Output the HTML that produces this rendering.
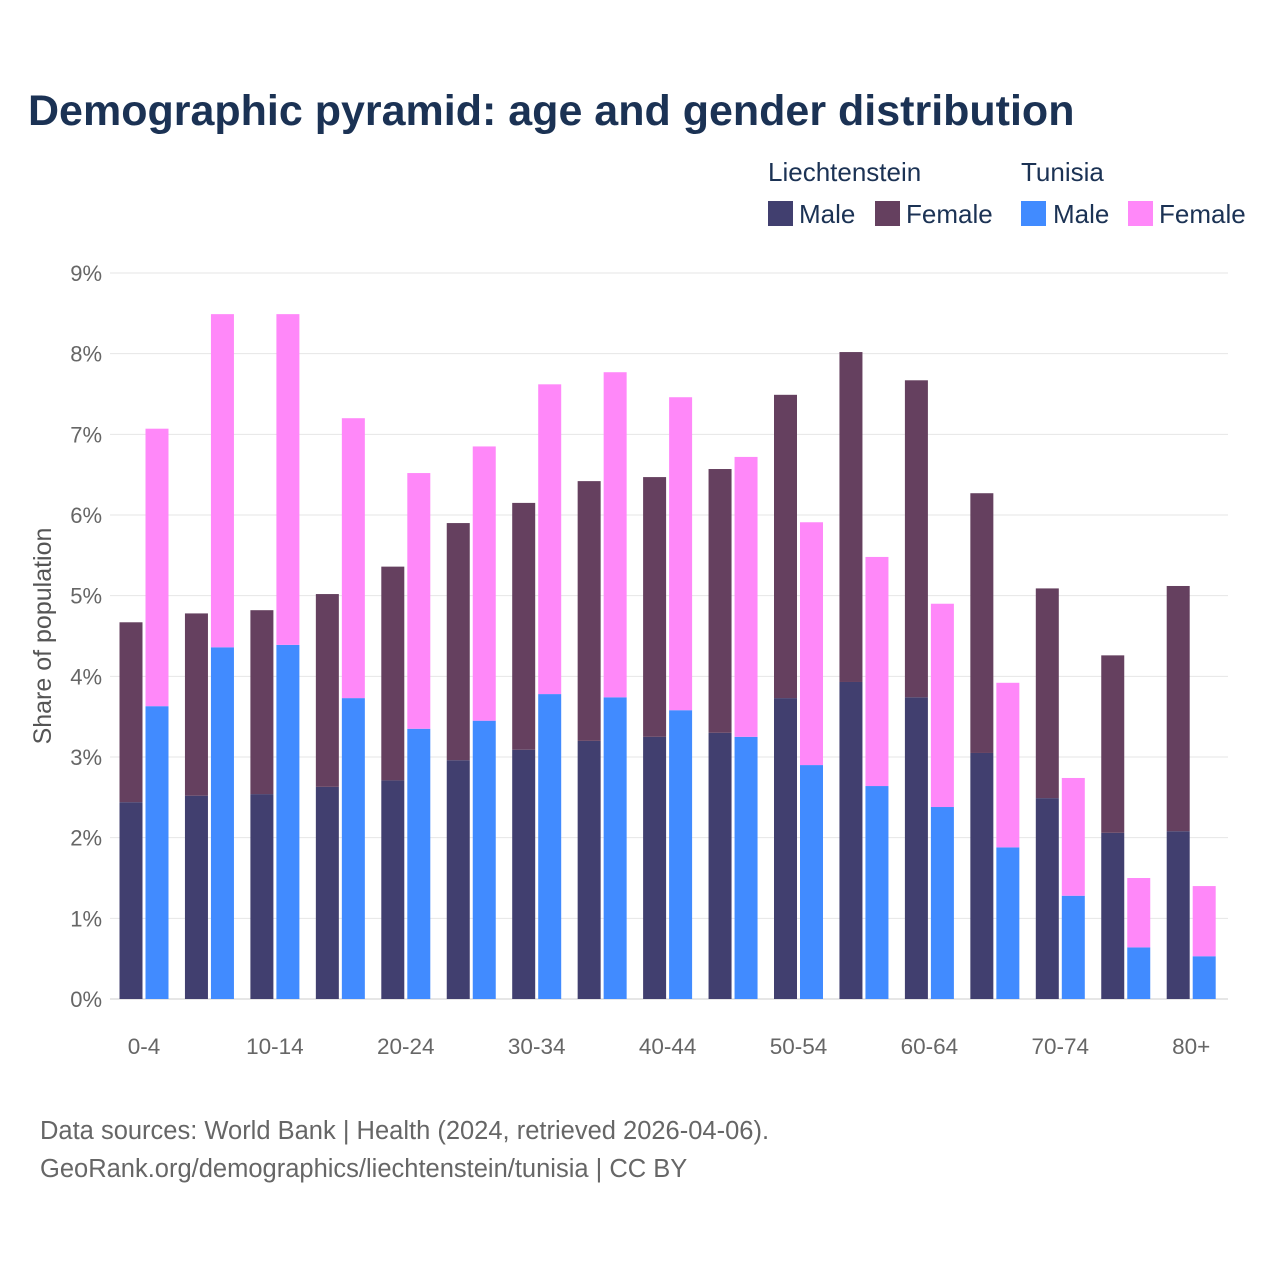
<!DOCTYPE html>
<html><head><meta charset="utf-8"><style>
body{margin:0;background:#fff;font-family:"Liberation Sans",sans-serif;}
#wrap{position:relative;width:1280px;height:1280px;overflow:hidden;}
</style></head><body>
<div id="wrap">
<svg id="svg" width="1280" height="1280" xmlns="http://www.w3.org/2000/svg">
<text x="28" y="125" font-size="43" font-weight="bold" fill="#1b3254">Demographic pyramid: age and gender distribution</text>
<g font-size="26" fill="#1b3254">
<text x="768" y="181">Liechtenstein</text>
<text x="1021" y="181">Tunisia</text>
<rect x="768" y="201" width="25" height="25" fill="#413f6f"/>
<text x="799" y="223">Male</text>
<rect x="875" y="201" width="25" height="25" fill="#65405f"/>
<text x="906" y="223">Female</text>
<rect x="1021" y="201" width="25" height="25" fill="#418bff"/>
<text x="1053" y="223">Male</text>
<rect x="1128" y="201" width="25" height="25" fill="#ff88f9"/>
<text x="1159" y="223">Female</text>
</g>
<text transform="translate(51,636) rotate(-90)" text-anchor="middle" font-size="25" fill="#555">Share of population</text>
<g id="grid"></g><g id="bars"></g><g id="xl"></g>
<text x="40" y="1139" font-size="25.5" fill="#666">Data sources: World Bank | Health (2024, retrieved 2026-04-06).</text>
<text x="40" y="1177" font-size="25.5" fill="#666">GeoRank.org/demographics/liechtenstein/tunisia | CC BY</text>
</svg></div>
<script>
const categories=["0-4","5-9","10-14","15-19","20-24","25-29","30-34","35-39","40-44","45-49","50-54","55-59","60-64","65-69","70-74","75-79","80+"];
const liMale=[2.44,2.52,2.54,2.63,2.71,2.96,3.09,3.20,3.25,3.30,3.73,3.93,3.74,3.05,2.49,2.06,2.08];
const liTotal=[4.67,4.78,4.82,5.02,5.36,5.90,6.15,6.42,6.47,6.57,7.49,8.02,7.67,6.27,5.09,4.26,5.12];
const tnMale=[3.63,4.36,4.39,3.73,3.35,3.45,3.78,3.74,3.58,3.25,2.90,2.64,2.38,1.88,1.28,0.64,0.53];
const tnTotal=[7.07,8.49,8.49,7.20,6.52,6.85,7.62,7.77,7.46,6.72,5.91,5.48,4.90,3.92,2.74,1.50,1.40];
const yTicks=[0,1,2,3,4,5,6,7,8,9];
const NS="http://www.w3.org/2000/svg";
const y0=999,pxPer=(999-273)/9,left=111.5,band=65.45,bw=23;
const yS=v=>y0-v*pxPer;
const xS=i=>left+i*band;
function mk(tag,attrs,parent){const e=document.createElementNS(NS,tag);for(const k in attrs)e.setAttribute(k,attrs[k]);parent.appendChild(e);return e;}
const grid=document.getElementById('grid'),bars=document.getElementById('bars'),xl=document.getElementById('xl');
yTicks.forEach(t=>{
 const l=mk('line',{x1:110,x2:1228,y1:yS(t),y2:yS(t),stroke:t===0?'#ccc':'#e6e6e6','stroke-width':1},grid);
 
 
 const tx=mk('text',{x:102,y:yS(t)+8,'text-anchor':'end','font-size':22,fill:'#666'},grid);
 tx.textContent=t+'%';
 
 
});
function rect(x,v0,v1,fill,name){
 const r=mk('rect',{x:x,y:yS(v1),width:bw,height:yS(v0)-yS(v1),fill:fill},bars);
 
 
}
categories.forEach((c,i)=>{
 const x=xS(i)+8;
 rect(x,0,liMale[i],'#413f6f','bar-liechtenstein-male');
 rect(x,liMale[i],liTotal[i],'#65405f','bar-liechtenstein-female');
 rect(x+bw+3,0,tnMale[i],'#418bff','bar-tunisia-male');
 rect(x+bw+3,tnMale[i],tnTotal[i],'#ff88f9','bar-tunisia-female');
 if(i%2===0){
  const t=mk('text',{x:x+bw+1.5,y:1054,'text-anchor':'middle','font-size':22.5,fill:'#666'},xl);
  t.textContent=c;
  
  
 }
});
</script>
</body></html>
